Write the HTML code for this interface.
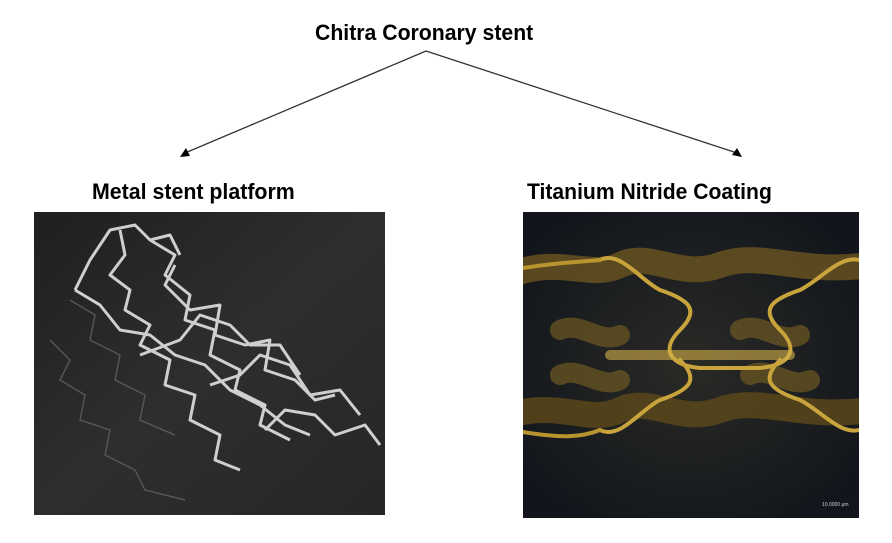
<!DOCTYPE html>
<html><head><meta charset="utf-8"><style>
body{margin:0;width:892px;height:543px;background:#fff;position:relative;overflow:hidden;font-family:"Liberation Sans",Arial,sans-serif}
.t{position:absolute;font-weight:bold;color:#000;white-space:nowrap;transform-origin:left top}
</style></head><body>
<div class="t" style="left:315px;top:20px;font-size:22px;transform:scaleX(0.965)">Chitra Coronary stent</div>
<div class="t" style="left:92px;top:179px;font-size:22px;transform:scaleX(0.97)">Metal stent platform</div>
<div class="t" style="left:527px;top:179px;font-size:22px;transform:scaleX(0.96)">Titanium Nitride Coating</div>
<svg width="892" height="543" style="position:absolute;left:0;top:0">
<line x1="426" y1="51" x2="185" y2="153" stroke="#333" stroke-width="1.3"/>
<polygon points="180,157 186,148 190,156" fill="#000"/>
<line x1="426" y1="51" x2="737" y2="153" stroke="#333" stroke-width="1.3"/>
<polygon points="742,157 732,155 737,148" fill="#000"/>
<defs>
<linearGradient id="g1" x1="0" y1="0" x2="1" y2="1"><stop offset="0" stop-color="#1f1f1f"/><stop offset="0.5" stop-color="#2e2e2e"/><stop offset="1" stop-color="#262626"/></linearGradient>
<radialGradient id="g2" cx="0.5" cy="0.5" r="0.6"><stop offset="0" stop-color="#2a2a26"/><stop offset="1" stop-color="#12161c"/></radialGradient>
<clipPath id="c1"><rect x="34" y="212" width="351" height="303"/></clipPath>
<clipPath id="c2"><rect x="523" y="212" width="336" height="306"/></clipPath>
</defs>
<rect x="34" y="212" width="351" height="303" fill="url(#g1)"/>
<g clip-path="url(#c1)">
<g fill="none" stroke="#555" stroke-width="1.5">
<path d="M50 340 l20 20 l-10 20 l25 15 l-5 25 l30 10 l-5 25 l30 15 l10 20 l40 10"/>
<path d="M70 300 l25 15 l-5 25 l30 15 l-5 25 l30 15 l-5 25 l35 15"/>
</g>
<g fill="none" stroke="#cfcfcf" stroke-width="3" stroke-linejoin="round">
<path d="M75 290 l15 -30 l20 -30 l25 -5 l15 15 l20 -5 l10 20"/>
<path d="M75 290 l25 15 l20 25 l30 5 l25 20 l30 10 l25 25 l30 15 l25 20 l25 10"/>
<path d="M120 230 l5 25 l-15 20 l20 15 l-5 20 l25 15 l-10 20 l30 15 l-5 25 l30 10 l-5 25 l30 15 l-5 25 l25 10"/>
<path d="M150 240 l25 15 l-10 20 l25 20 l-5 25 l30 10 l-5 25 l30 15 l-5 20 l30 15 l-5 20 l30 15"/>
<path d="M175 265 l-10 20 l25 25 l30 -5 l-5 30 l30 10 l25 -5 l-5 30 l30 10 l20 20 l20 -5"/>
<path d="M140 355 l40 -15 l20 -25 l30 10 l20 20 l30 0 l20 30"/>
<path d="M210 385 l30 -10 l20 -20 l30 10 l20 30 l30 -5 l20 25"/>
<path d="M265 430 l20 -20 l30 5 l20 20 l30 -10 l15 20"/>
</g>
</g>
<rect x="523" y="212" width="336" height="306" fill="url(#g2)"/>
<g fill="none" stroke-linecap="round" clip-path="url(#c2)">
<path d="M510 275 C560 255 590 280 620 265 C650 250 680 280 720 265 C760 250 800 275 870 265" stroke="#6b5520" stroke-width="26" opacity="0.8"/>
<path d="M510 415 C560 400 590 425 620 410 C650 395 680 425 720 410 C760 395 800 420 870 410" stroke="#5e4a1a" stroke-width="26" opacity="0.8"/>
<path d="M560 330 C580 320 600 345 620 335 M740 330 C760 320 780 345 800 335 M560 375 C580 365 600 390 620 380 M750 375 C770 365 790 390 810 380" stroke="#6e5a22" stroke-width="20" opacity="0.7"/>
<path d="M600 260 C620 250 640 280 660 290 C690 300 700 310 680 330 C660 350 670 365 700 368 L760 368 C790 365 800 350 780 330 C760 310 770 300 800 290 C820 280 840 255 859 260" stroke="#c9a43c" stroke-width="4"/>
<path d="M600 430 C620 440 640 410 660 400 C690 390 700 380 680 360 M780 360 C760 380 770 390 800 400 C820 410 840 435 859 430" stroke="#c9a43c" stroke-width="4"/>
<path d="M610 355 L790 355" stroke="#d4b04a" stroke-width="10" opacity="0.6"/>
<path d="M523 268 C560 262 580 262 600 260 M523 432 C560 438 580 438 600 430" stroke="#b8942e" stroke-width="4"/>
</g>
<text x="822" y="506" font-size="5" fill="#ccc" font-family="Liberation Sans">10.0000 µm</text>
</svg>
</body></html>
